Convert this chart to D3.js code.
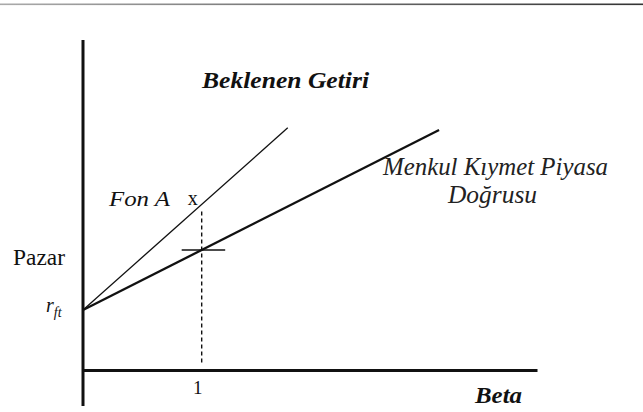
<!DOCTYPE html>
<html>
<head>
<meta charset="utf-8">
<script src="https://cdn.jsdelivr.net/npm/d3@7"></script>
</head>
<body style="margin:0;padding:0;background:#fff">
<div id="chart"></div>
<script>
// ---- data ----
const betaTicks = [1];                 // x tick labels
const betaTickLabels = ["1"];
const riskFree = 2;                    // r_ft (intercept)
const smlSlope = 2;                    // Menkul Kıymet Piyasa Doğrusu: r = rf + 2·β
const fundSlope = 3.52;                // Fon A line: r = rf + 3.52·β
const smlBetaEnd = 3.0;
const fundBetaEnd = 1.725;
const marketBeta = 1;
const betaMax = 3.825;
const returnMax = 11;
const returnMin = -1.2;

const W = 643, H = 412;
const SERIF = "Liberation Serif";
const svg = d3.select("#chart").append("svg").attr("width", W).attr("height", H)
  .style("display", "block");

const x = d3.scaleLinear().domain([0, betaMax]).range([83, 537]);
const y = d3.scaleLinear().domain([0, returnMax]).range([370, 40]);

function label(px, py, str, size, opts = {}) {
  const t = svg.append("text").attr("x", px).attr("y", py)
    .style("font-family", SERIF).style("font-size", size + "px")
    .style("font-style", opts.italic ? "italic" : "normal")
    .style("font-weight", opts.bold ? "bold" : "normal")
    .style("fill", opts.fill || "#111");
  if (opts.anchor) t.attr("text-anchor", opts.anchor);
  if (opts.len) t.attr("textLength", opts.len).attr("lengthAdjust", "spacingAndGlyphs");
  if (str !== null) t.text(str);
  return t;
}

// scan edge line at top
const grad = svg.append("defs").append("linearGradient").attr("id", "topg");
grad.append("stop").attr("offset", "0%").attr("stop-color", "#aaa");
grad.append("stop").attr("offset", "100%").attr("stop-color", "#333");
svg.append("rect").attr("x", 0).attr("y", 3.5).attr("width", W).attr("height", 1.6).attr("fill", "url(#topg)");

// axes
svg.append("line")
  .attr("x1", x(0)).attr("x2", x(0))
  .attr("y1", y(returnMax)).attr("y2", y(returnMin))
  .attr("stroke", "#111").attr("stroke-width", 3);

const xAxis = d3.axisBottom(x).tickValues(betaTicks)
  .tickFormat((d, i) => betaTickLabels[i]).tickSize(0).tickPadding(11);
const gx = svg.append("g").attr("transform", `translate(0,${y(0)})`).call(xAxis);
gx.select(".domain").attr("stroke", "#111").attr("stroke-width", 3);
gx.selectAll(".tick text")
  .style("font-family", SERIF).style("font-size", "19px").attr("fill", "#111")
  .attr("dx", -4.5);

// lines
const line = d3.line().x(d => x(d[0])).y(d => y(d[1]));
const smlPts = [[0, riskFree], [smlBetaEnd, riskFree + smlSlope * smlBetaEnd]];
const fundPts = [[0, riskFree], [fundBetaEnd, riskFree + fundSlope * fundBetaEnd]];

svg.append("path").datum(fundPts).attr("d", line)
  .attr("fill", "none").attr("stroke", "#111").attr("stroke-width", 1.3);
svg.append("path").datum(smlPts).attr("d", line)
  .attr("fill", "none").attr("stroke", "#111").attr("stroke-width", 2.3);

// dashed beta=1 line
const fundAtMarket = riskFree + fundSlope * marketBeta;
svg.append("line")
  .attr("x1", x(marketBeta)).attr("x2", x(marketBeta))
  .attr("y1", y(fundAtMarket) + 7).attr("y2", y(0) - 6)
  .attr("stroke", "#111").attr("stroke-width", 1.4).attr("stroke-dasharray", "4,3");

// market cross mark
const marketReturn = riskFree + smlSlope * marketBeta;
svg.append("line")
  .attr("x1", x(marketBeta) - 20).attr("x2", x(marketBeta) + 23.5)
  .attr("y1", y(marketReturn)).attr("y2", y(marketReturn))
  .attr("stroke", "#111").attr("stroke-width", 1.6);

// labels
label(202, 88, "Beklenen Getiri", 23, { bold: true, italic: true, len: 167 });
label(109, 205.5, "Fon A", 22, { italic: true, len: 61 });
label(x(marketBeta) - 4, y(fundAtMarket) + 1, "x", 20, { anchor: "end" });
label(383, 175, "Menkul Kıymet Piyasa", 25, { italic: true, fill: "#222", len: 225 });
label(448, 203, "Doğrusu", 25, { italic: true, fill: "#222", len: 89 });
label(13, y(marketReturn) + 14.5, "Pazar", 23, { len: 52 });
const rf = label(46, y(riskFree) + 2, null, 20, { italic: true });
rf.append("tspan").text("r");
rf.append("tspan").attr("dy", 5).style("font-size", "14px").text("ft");
label(475, 403, "Beta", 23, { bold: true, italic: true, len: 47 });
</script>
</body>
</html>
